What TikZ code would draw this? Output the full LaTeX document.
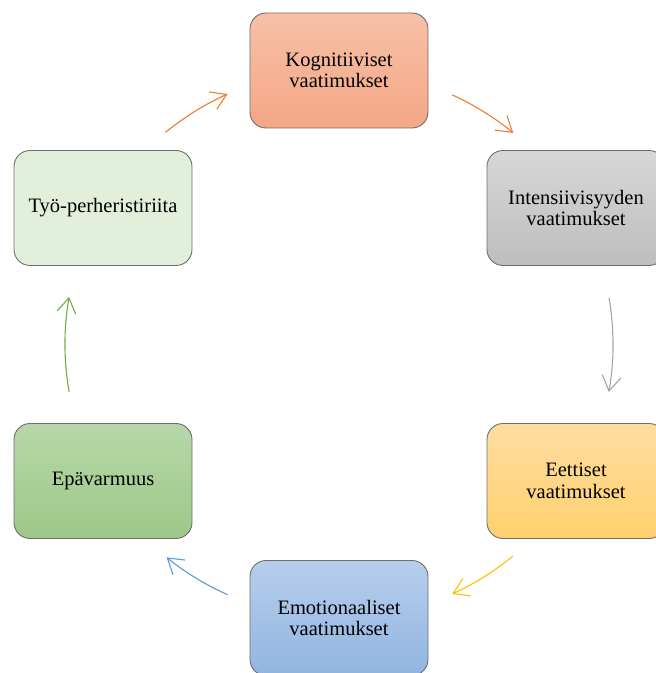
\documentclass[tikz,border=0pt]{standalone}
\usepackage{fontspec}
\setmainfont{Liberation Serif}
\usetikzlibrary{arrows.meta}

% box fills (top / bottom of each gradient) and connector colours
\definecolor{boxline}{HTML}{6E6E6E}
\definecolor{orgTop}{HTML}{F7C0A7}
\definecolor{orgBot}{HTML}{F4A785}
\definecolor{gryTop}{HTML}{D7D7D7}
\definecolor{gryBot}{HTML}{BEBEBE}
\definecolor{ylwTop}{HTML}{FFDDA0}
\definecolor{ylwBot}{HTML}{FFD06E}
\definecolor{bluTop}{HTML}{B6CEEB}
\definecolor{bluBot}{HTML}{92B5E1}
\definecolor{grnTop}{HTML}{B7D7A9}
\definecolor{grnBot}{HTML}{9DC888}
\definecolor{lgrn}{HTML}{E2EFDA}
\definecolor{accOrange}{HTML}{ED7D31}
\definecolor{accGray}{HTML}{A5A5A5}
\definecolor{accYellow}{HTML}{FFC000}
\definecolor{accBlue}{HTML}{5B9BD5}
\definecolor{accGreen}{HTML}{70AD47}

\begin{document}
\begin{tikzpicture}[x=1pt,y=1pt,
  stage/.style={draw=boxline, line width=0.9pt, rounded corners=16pt,
    minimum width=178pt, minimum height=115pt, inner sep=0pt,
    align=center, font=\fontsize{20.5}{21.5}\selectfont},
  flow/.style={line width=1.1pt,
    -{Straight Barb[length=15pt,width=19pt]}}
]
\useasboundingbox (0,0) rectangle (656,673);
\clip (0,0) rectangle (656,673);

% the six stages of the cycle
\node[stage, top color=orgTop, bottom color=orgBot] (kog) at (339,602.5)
  {Kognitiiviset\\vaatimukset};
\node[stage, top color=gryTop, bottom color=gryBot] (int) at (576,465)
  {Intensiivisyyden\\vaatimukset};
\node[stage, top color=ylwTop, bottom color=ylwBot] (eet) at (576,192)
  {Eettiset\\vaatimukset};
\node[stage, top color=bluTop, bottom color=bluBot] (emo) at (339,55)
  {Emotionaaliset\\vaatimukset};
\node[stage, top color=grnTop, bottom color=grnBot] (epa) at (103,192)
  {Epävarmuus};
\node[stage, fill=lgrn] (tyo) at (103,465)
  {Työ-perheristiriita};

% circular connectors, all on one circle around the cycle centre
\coordinate (ctr) at (339,328.6);
\path (ctr) ++(65.6:274pt)  coordinate (s1)
      (ctr) ++(9.8:274pt)   coordinate (s2)
      (ctr) ++(-50.6:274pt) coordinate (s3)
      (ctr) ++(-114:274pt)  coordinate (s4)
      (ctr) ++(-170:274pt)  coordinate (s5)
      (ctr) ++(129.3:274pt) coordinate (s6);

\draw[flow, accOrange] (s1) arc[start angle=65.6,  end angle=50.5,  radius=274pt];
\draw[flow, accGray]   (s2) arc[start angle=9.8,   end angle=-10,   radius=274pt];
\draw[flow, accYellow] (s3) arc[start angle=-50.6, end angle=-65.6, radius=274pt];
\draw[flow, accBlue]   (s4) arc[start angle=-114,  end angle=-129,  radius=274pt];
\draw[flow, accGreen]  (s5) arc[start angle=-170,  end angle=-190,  radius=274pt];
\draw[flow, accOrange] (s6) arc[start angle=129.3, end angle=114,   radius=274pt];
\end{tikzpicture}
\end{document}
